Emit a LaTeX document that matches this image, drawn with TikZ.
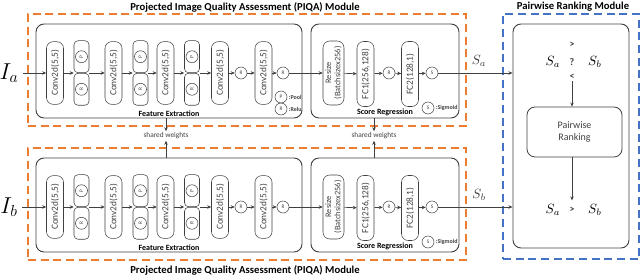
\documentclass[tikz,border=0pt]{standalone}
\usepackage{fontspec}
\setmainfont{Carlito}
\usepackage{tikz}
\usetikzlibrary{positioning, arrows.meta, fit, calc}
\definecolor{piqaOrange}{HTML}{ED7D31}
\definecolor{rankBlue}{HTML}{4472C4}
\definecolor{netGray}{HTML}{404040}

\tikzset{
  arr/.style={-{Stealth[length=3pt,width=2.6pt]}, netGray, line width=0.5pt},
  layer/.style={draw=netGray, rounded corners=5pt, rotate=90, minimum width=47pt,
    minimum height=12.75pt, inner sep=0pt, align=center, text=netGray,
    font=\fontsize{7}{8}\selectfont},
  half/.style={draw=netGray, rounded corners=3pt, minimum width=11.25pt,
    minimum height=24pt, inner sep=0pt},
  op/.style={draw=netGray, circle, minimum size=9pt, inner sep=0pt, text=netGray,
    font=\fontsize{4}{4}\selectfont},
  stage/.style={draw=netGray, rounded corners=6pt, inner sep=0pt, line width=0.7pt},
  module/.style={dash pattern=on 6pt off 3.5pt, line width=1pt, inner sep=0pt},
  stagelabel/.style={font=\fontsize{6}{7}\selectfont\bfseries, inner sep=1.5pt},
  title/.style={font=\fontsize{8}{9}\selectfont\bfseries},
  legend/.style={font=\fontsize{4.5}{5}\selectfont\bfseries, inner sep=1pt, text=netGray},
  cmp/.style={font=\fontsize{7.5}{8}\selectfont\bfseries, text=netGray, inner sep=1pt},
}

\begin{document}
\begin{tikzpicture}[x=0.75pt, y=-0.75pt]
  \useasboundingbox (0,0) rectangle (640,277);

  % pairwise ranking module
  \node[module, draw=rankBlue, fit={(503,14) (639,259)}] (rankmod) {};
  \node[stage, fit={(513,24) (629,248)}] (pw) {};
  \node[title] (rankttl) at (573,7) {Pairwise Ranking Module};
  \node (cmpa) at (553,62) {$S_a$};
  \node[cmp] (quest) at (572,62) {?};
  \node (cmpb) at (595,62) {$S_b$};
  \node[cmp] (gt) at (572,45) {>};
  \node[cmp] (lt) at (572,77) {<};
  \node[draw=netGray, rounded corners=6pt, minimum width=71.25pt, minimum height=37.5pt,
    align=center, text=netGray, font=\fontsize{7.5}{9}\selectfont, line width=0.6pt]
    (rank) at (574.5,132) {Pairwise\\Ranking};
  \node (resa) at (553,210) {$S_a$};
  \node[cmp] (resgt) at (572,210) {>};
  \node (resb) at (595,210) {$S_b$};
  \draw[arr] (lt) -- (rank.north -| lt);
  \draw[arr, shorten >=4pt] (rank.south -| resgt) -- (resgt);

  % two PIQA branches
  \foreach \m/\sh in {a/0, b/-100.5}{
  \begin{scope}[yshift=\sh pt]
    \node[module, draw=piqaOrange, fit={(28,14) (466,126)}] (piqa\m) {};
    \node[stage, fit={(36,24) (302,118)}] (fe\m) {};
    \node[stage, fit={(311,24) (459,118)}] (sr\m) {};
    \node[stagelabel, above] at (fe\m.south) {Feature Extraction};
    \node[stagelabel, above] at (sr\m.south) {Score Regression};
    % feature extraction
    \node[font=\LARGE] (in\m) at (9,73) {$I_\m$};
    \node[layer] (conv1\m) at (55,73) {Conv2d(5,5)};
    \node[minimum width=11.25pt, minimum height=48pt, inner sep=0pt] (pr1\m) at (81.5,73) {};
    \node[layer] (conv2\m) at (113.5,73) {Conv2d(5,5)};
    \node[minimum width=11.25pt, minimum height=48pt, inner sep=0pt] (pr2\m) at (140.5,73) {};
    \node[layer] (conv3\m) at (165.5,73) {Conv2d(5,5)};
    \node[minimum width=11.25pt, minimum height=48pt, inner sep=0pt] (pr3\m) at (192,73) {};
    \node[layer] (conv4\m) at (220,73) {Conv2d(5,5)};
    \node[op] (relu4\m) at (241,73) {R};
    \node[layer] (conv5\m) at (263.5,73) {Conv2d(5,5)};
    \node[op] (relu5\m) at (283,73) {R};
    \foreach \k in {1,2,3}{
      \node[half, above=0pt of pr\k\m.center] (pool\k\m) {};
      \node[half, below=0pt of pr\k\m.center] (act\k\m) {};
      \node[op, rotate=90] at (pool\k\m) {P};
      \node[op, rotate=90] at (act\k\m) {R};
    }
    % score regression
    \node[layer, minimum width=48pt, minimum height=15.75pt, font=\fontsize{6.3}{7}\selectfont]
      (resize\m) at (333.5,73) {Resize\\(Batchsizex256)};
    \node[layer, minimum width=48.75pt] (fc1\m) at (365.5,74) {FC1(256,128)};
    \node[op] (relu6\m) at (389,73) {R};
    \node[layer, minimum width=48.75pt] (fc2\m) at (410,74) {FC2(128,1)};
    \node[op] (sig\m) at (432,73) {S};
    \node[op] (sigkey\m) at (428,108) {S};
    \node[legend, right] at (sigkey\m.east) {:Sigmoid};
    % connectors
    \draw[arr] (in\m) -- (conv1\m);
    \draw[arr] (conv1\m) -- (pr1\m);
    \draw[arr] (pr1\m) -- (conv2\m);
    \draw[arr] (conv2\m) -- (pr2\m);
    \draw[arr] (pr2\m) -- (conv3\m);
    \draw[arr] (conv3\m) -- (pr3\m);
    \draw[arr] (pr3\m) -- (conv4\m);
    \draw[arr] (conv4\m) -- (relu4\m);
    \draw[arr] (relu4\m) -- (conv5\m);
    \draw[arr] (conv5\m) -- (relu5\m);
    \draw[arr] (relu5\m) -- (resize\m);
    \draw[arr] (resize\m) -- (fc1\m);
    \draw[arr] (fc1\m) -- (relu6\m);
    \draw[arr] (relu6\m) -- (fc2\m);
    \draw[arr] (fc2\m) -- (sig\m);
    \draw[arr] (sig\m) -- (sig\m -| pw.west)
      node[pos=0.55, above=1pt] {$S_\m$};
  \end{scope}
  }

  % legend of the upper branch
  \node[op] (poolkey) at (281,97) {P};
  \node[legend, right] at (poolkey.east) {:Pool};
  \node[op] (relukey) at (281,109) {R};
  \node[legend, right] at (relukey.east) {:Relu};

  % module titles
  \node[title] (piqattla) at (245,7) {Projected Image Quality Assessment (PIQA) Module};
  \node[title] (piqattlb) at (245,270) {Projected Image Quality Assessment (PIQA) Module};

  % weight sharing
  \node[font=\fontsize{5.5}{6}\selectfont, text=netGray, inner sep=1pt] (swfe) at (166,136) {shared weights};
  \node[font=\fontsize{5.5}{6}\selectfont, text=netGray, inner sep=1pt] (swsr) at (374,136) {shared weights};
  \draw[arr] (fea.south -| swfe) -- (swfe.north);
  \draw[arr] (feb.north -| swfe) -- (swfe.south);
  \draw[arr] (sra.south -| swsr) -- (swsr.north);
  \draw[arr] (srb.north -| swsr) -- (swsr.south);
\end{tikzpicture}
\end{document}
